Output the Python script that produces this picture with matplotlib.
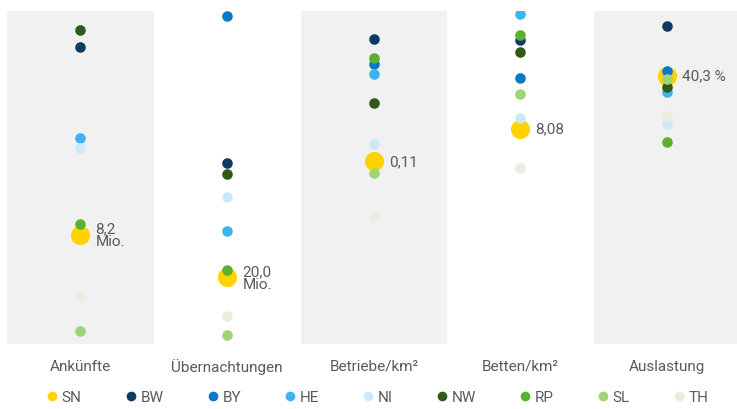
import matplotlib
matplotlib.use("Agg")
import matplotlib.pyplot as plt
from matplotlib.lines import Line2D

plt.rcParams["font.family"] = ["Roboto", "DejaVu Sans"]

# Bundesländer und Farben
states = ["SN", "BW", "BY", "HE", "NI", "NW", "RP", "SL", "TH"]
colors = ["#ffd200", "#0d3b63", "#0a78c8", "#3db4f2", "#cde9f9",
          "#2f5a17", "#5cb030", "#9fd472", "#eaeddf"]

# Kennzahlen je Spalte
metrics = ["Ankünfte", "Übernachtungen", "Betriebe/km²", "Betten/km²", "Auslastung"]
axis_max = [25, 100, 0.2, 12.5, 50]

ankuenfte = [8.2, 22.3, 40.0, 15.5, 14.7, 23.6, 9.0, 1.0, 3.6]          # Mio.
uebernachtungen = [20.0, 54.4, 98.5, 33.9, 44.1, 51.1, 22.2, 2.7, 8.4]  # Mio.
betriebe_km2 = [0.11, 0.183, 0.168, 0.162, 0.120, 0.145, 0.172, 0.103, 0.076]
betten_km2 = [8.08, 11.4, 10.0, 12.4, 8.5, 10.96, 11.6, 9.4, 6.6]
auslastung = [40.3, 47.7, 41.0, 37.8, 33.0, 38.6, 30.3, 39.8, 34.2]     # %

columns = [ankuenfte, uebernachtungen, betriebe_km2, betten_km2, auslastung]
sn_labels = ["8,2\nMio.", "20,0\nMio.", "0,11", "8,08", "40,3 %"]

W, H = 737, 410
fig = plt.figure(figsize=(W / 100, H / 100), dpi=100)
fig.patch.set_facecolor("white")

centers = [80, 227, 374, 520, 667]
col_w = 147
top_px, bottom_px = 12, 345
band = "#f1f1f1"
text_col = "#5a5a5a"

for i, (metric, vals, vmax, lab) in enumerate(zip(metrics, columns, axis_max, sn_labels)):
    left = (centers[i] - col_w / 2) / W
    ax = fig.add_axes([left, 1 - bottom_px / H, col_w / W, (bottom_px - top_px) / H])
    ax.set_facecolor(band if i % 2 == 0 else "white")
    ax.set_xlim(-1, 1)
    ax.set_ylim(0, vmax)
    for s in ax.spines.values():
        s.set_visible(False)
    ax.set_xticks([])
    ax.set_yticks([])

    # Sachsen zuerst, größer, übrige Länder darüber
    ax.scatter([0], [vals[0]], s=190, color=colors[0], zorder=2, linewidths=0)
    for v, c in zip(vals[1:], colors[1:]):
        ax.scatter([0], [v], s=58, color=c, zorder=3, linewidths=0)

    ax.annotate(lab, xy=(0, vals[0]), xytext=(11, 0), textcoords="offset points",
                ha="left", va="center", fontsize=11, color=text_col,
                linespacing=0.85, zorder=4, annotation_clip=False)

    fig.text(centers[i] / W, 1 - 367 / H, metric, ha="center", va="center",
             fontsize=11, color=text_col)

handles = [Line2D([], [], marker="o", linestyle="none", markersize=7,
                  markerfacecolor=c, markeredgewidth=0) for c in colors]
fig.legend(handles, states, loc="center", bbox_to_anchor=(378 / W, 1 - 398 / H),
           ncol=len(states), frameon=False, fontsize=11, labelcolor=text_col,
           handlelength=0.6, handletextpad=0.35, columnspacing=2.9,
           borderaxespad=0)

fig.savefig("out.png", dpi=100, facecolor="white")
